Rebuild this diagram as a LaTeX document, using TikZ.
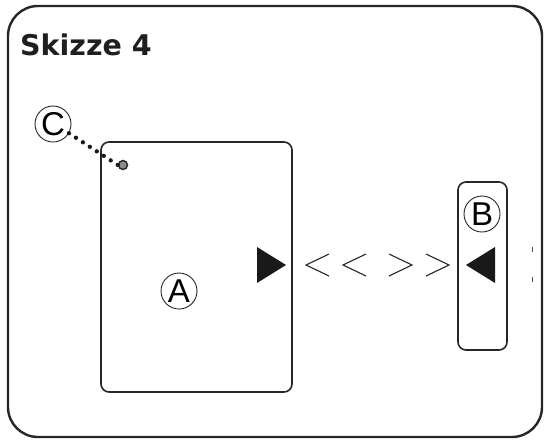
\documentclass[tikz,border=0pt]{standalone}
\usepackage{fontspec}
\newfontfamily\titlefont{DejaVu Sans}
\newfontfamily\letterfont{Liberation Sans}
\begin{document}
\begin{tikzpicture}[x=1pt,y=-1pt,
  frame/.style={draw=black!85,line width=2.4pt,rounded corners=30pt},
  box/.style={draw=black!85,line width=1.6pt,rounded corners=8pt},
  circled/.style={circle,draw=black!85,line width=0.9pt,minimum size=36pt,inner sep=0pt,font=\letterfont\fontsize{33}{33}\selectfont},
  tri/.style={fill=black!90,draw=none},
  chev/.style={draw=black!85,line width=1.1pt},
  dotline/.style={draw=black!90,line width=4.3pt,line cap=round,dash pattern=on 0pt off 8.3pt}]
\useasboundingbox (0,0) rectangle (546,440);
\draw[frame] (8,6) rectangle (542,437);
\node[anchor=base west,font=\titlefont\bfseries\fontsize{28.5}{28.5}\selectfont,text=black!88,inner sep=0pt] (title) at (20,55) {Skizze 4};
% box A
\draw[box] (101,142) rectangle (292,392);
\node[circled] (A) at (179,291) {A};
% box B
\draw[box] (458,182) rectangle (507,350);
\node[circled] (B) at (482,214) {B};
% C
\node[circled] (C) at (53,124) {C};
\node[circle,fill=black!45,draw=black!85,line width=1.4pt,minimum size=9pt,inner sep=0pt] (dot) at (123,165) {};
\draw[dotline] (C.-30) -- (dot.west);
% triangles
\path[tri] (257,247) -- (286,265) -- (257,283) -- cycle;
\path[tri] (495,247) -- (466,265) -- (495,283) -- cycle;
% chevrons
\draw[chev] (329,254) -- (306,265) -- (329,276);
\draw[chev] (366,254) -- (343,265) -- (366,276);
\draw[chev] (389,254) -- (412,265) -- (389,276);
\draw[chev] (426,254) -- (449,265) -- (426,276);
% small dashed mark
\draw[draw=black!70,line width=0.8pt,dash pattern=on 5pt off 25pt] (532,247) -- (532,283);
\end{tikzpicture}
\end{document}
